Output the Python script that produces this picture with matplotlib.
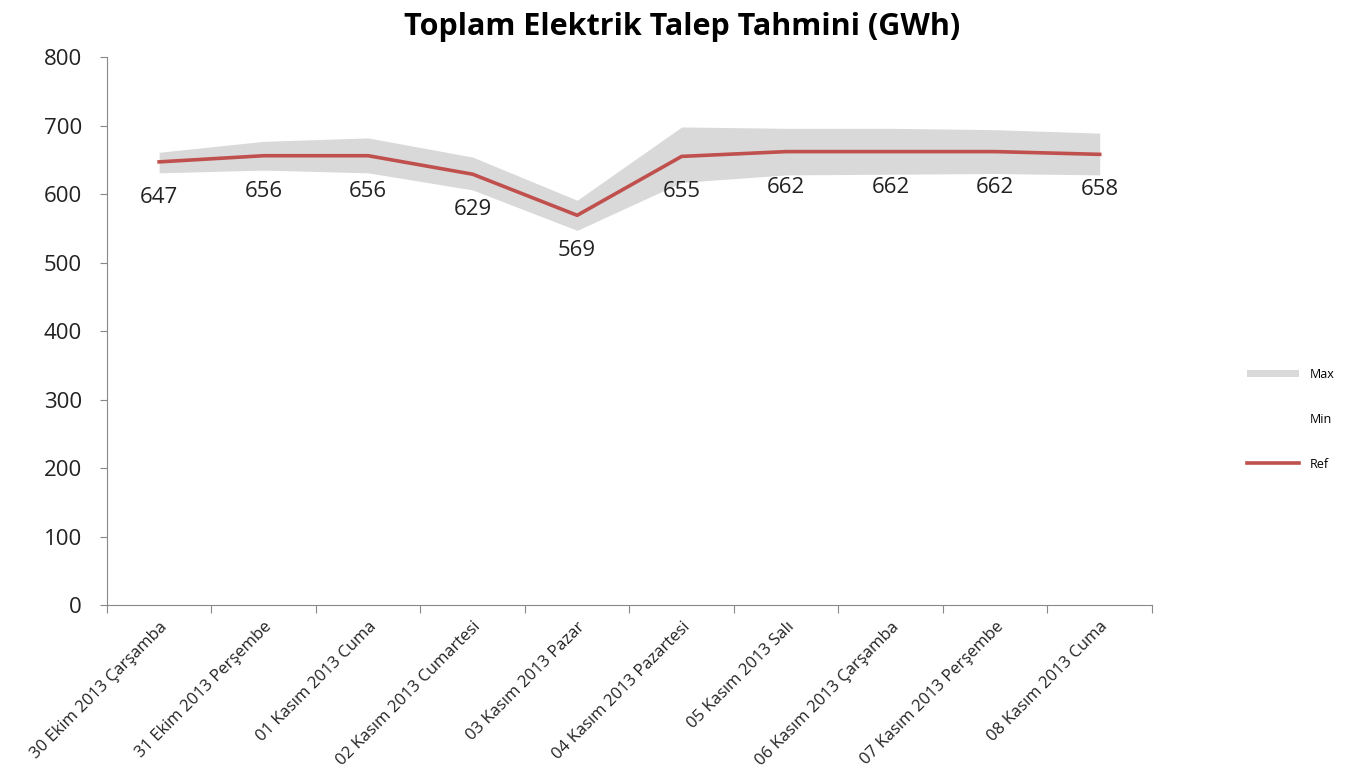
import numpy as np
import matplotlib.pyplot as plt
from matplotlib.patches import Patch
from matplotlib.lines import Line2D

plt.rcParams['font.family'] = ['Open Sans', 'DejaVu Sans']

# Veriler
gunler = ["30 Ekim 2013 Çarşamba", "31 Ekim 2013 Perşembe", "01 Kasım 2013 Cuma",
          "02 Kasım 2013 Cumartesi", "03 Kasım 2013 Pazar", "04 Kasım 2013 Pazartesi",
          "05 Kasım 2013 Salı", "06 Kasım 2013 Çarşamba", "07 Kasım 2013 Perşembe",
          "08 Kasım 2013 Cuma"]
ref = [647, 656, 656, 629, 569, 655, 662, 662, 662, 658]
maks = [661, 677, 682, 654, 591, 698, 696, 696, 694, 689]
mins = [631, 635, 631, 606, 547, 617, 628, 629, 630, 628]

x = np.arange(len(gunler))

fig = plt.figure(figsize=(13.53, 7.82), dpi=100)
ax = fig.add_axes([0.079, 0.2263, 0.7724, 0.7007])

ax.fill_between(x, mins, maks, color='#d9d9d9', linewidth=0)
ax.plot(x, ref, color='#c0504d', linewidth=2.6)

for xi, v in zip(x, ref):
    ax.annotate(str(v), (xi, v), xytext=(0, -25.5), textcoords='offset points',
                ha='center', va='center', fontsize=16, color='#222222')

ax.set_xlim(-0.5, len(gunler) - 0.5)
ax.set_ylim(0, 800)
ax.set_yticks(range(0, 801, 100))
ax.tick_params(axis='y', labelsize=16, length=5, pad=13, color='#888888', labelcolor='#222222')

# kategori sinirlarinda tik, ortada etiket
ax.set_xticks(np.arange(-0.5, len(gunler), 1.0))
ax.set_xticklabels([])
ax.tick_params(axis='x', which='major', length=6, color='#888888')
ax.set_xticks(x, minor=True)
ax.set_xticklabels(gunler, minor=True, rotation=45, ha='right', rotation_mode='anchor',
                   fontsize=12, color='#222222')
ax.tick_params(axis='x', which='minor', length=0, pad=10)

for s in ['top', 'right']:
    ax.spines[s].set_visible(False)
for s in ['left', 'bottom']:
    ax.spines[s].set_color('#888888')

fig.suptitle("Toplam Elektrik Talep Tahmini (GWh)", x=0.504, y=0.966, va='center',
             fontsize=22, fontweight='bold')

handles = [Patch(facecolor='#d9d9d9', edgecolor='none'),
           Patch(facecolor='none', edgecolor='none'),
           Line2D([0], [0], color='#c0504d', linewidth=2.6)]
ax.legend(handles, ['Max', 'Min', 'Ref'], loc='center left', bbox_to_anchor=(1.08, 0.339),
          frameon=False, fontsize=9, handlelength=4.2, labelspacing=2.55, handleheight=0.6)

plt.savefig('out.png', dpi=100)
